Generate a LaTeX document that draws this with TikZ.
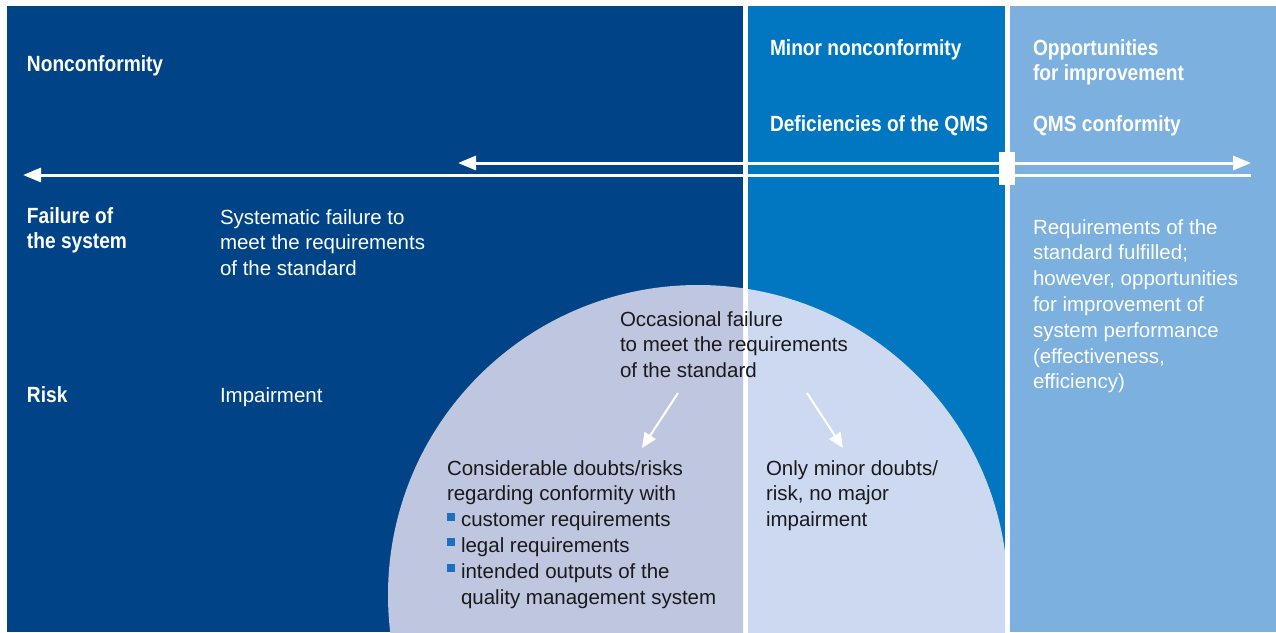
\documentclass[tikz,border=0pt]{standalone}
\usepackage{fontspec}
\setmainfont{Liberation Sans}
\newfontfamily\hdfont{Liberation Sans}[FakeStretch=0.87]
\usetikzlibrary{arrows.meta}
\definecolor{dkblue}{HTML}{004487}
\definecolor{midblue}{HTML}{0077C0}
\definecolor{ltblue}{HTML}{7BB0DF}
\definecolor{circdk}{HTML}{BFC6E0}
\definecolor{circmid}{HTML}{CDD9F0}
\definecolor{txtdark}{HTML}{1A1A1A}
\definecolor{bulletblue}{HTML}{1F6FC0}
\newcommand{\bul}{\makebox[14pt][l]{\textcolor{bulletblue}{\rule[6pt]{8pt}{8pt}}}}
\tikzset{bigtip/.tip={Triangle[length=18pt,width=14pt]}}
\begin{document}
\begin{tikzpicture}[x=1pt,y=-1pt,
  bodytext/.style={anchor=base west, inner sep=0pt, outer sep=0pt, align=left, font=\fontsize{20.5}{25.8}\selectfont},
  whitetext/.style={bodytext, text=white},
  darktext/.style={bodytext, text=txtdark},
  headtext/.style={anchor=base west, inner sep=0pt, outer sep=0pt, align=left, text=white, font=\hdfont\bfseries\fontsize{22}{25.5}\selectfont},
  bigline/.style={draw=white, line width=3pt},
  smallarrow/.style={draw=white, line width=2pt, -{Triangle[length=15pt,width=13pt]}}]
\useasboundingbox (0,0) rectangle (1276,632);
\fill[white] (0,0) rectangle (1276,632);
% panels
\fill[dkblue] (7,6) rectangle (743,632);
\fill[midblue] (748,6) rectangle (1005,632);
\fill[ltblue] (1010,6) rectangle (1276,632);
% circle
\begin{scope}
  \clip (7,6) rectangle (743,632);
  \fill[circdk] (698,595) circle[radius=310];
\end{scope}
\begin{scope}
  \clip (748,6) rectangle (1005,632);
  \fill[circmid] (698,595) circle[radius=310];
\end{scope}
% arrows
\coordinate (lowL) at (23,175);
\coordinate (lowR) at (1251,175);
\coordinate (upL) at (458,163);
\coordinate (upR) at (1251,163);
\draw[bigline, bigtip-] (lowL) -- (lowR);
\draw[bigline, bigtip-bigtip] (upL) -- (upR);
\node[fill=white, inner sep=0pt, minimum width=16pt, minimum height=33pt] (mark) at (1007,168.5) {};
% headings (anchor = baseline of last line)
\node[headtext] (nc) at (27,71) {Nonconformity};
\node[headtext] (minor) at (770,55) {Minor nonconformity};
\node[headtext] (defic) at (770,131) {Deficiencies of the QMS};
\node[headtext] (opp) at (1033,80.5) {Opportunities\\for improvement};
\node[headtext] (qmsc) at (1033,131) {QMS conformity};
\node[headtext] (fail) at (27,248.5) {Failure of\\the system};
\node[headtext] (risk) at (27,402) {Risk};
% body texts (anchor = baseline of last line)
\node[whitetext] (syst) at (220,275.6) {Systematic failure to\\meet the requirements\\of the standard};
\node[whitetext] (imp) at (220,402) {Impairment};
\node[whitetext] (req) at (1033,388.8) {Requirements of the\\standard fulfilled;\\however, opportunities\\for improvement of\\system performance\\(effectiveness,\\efficiency)};
\node[darktext] (occ) at (620,377.6) {Occasional failure\\to meet the requirements\\of the standard};
\node[darktext] (cons) at (447,604) {Considerable doubts/risks\\regarding conformity with\\\bul customer requirements\\\bul legal requirements\\\bul intended outputs of the\\\hspace*{14pt}quality management system};
\node[darktext] (only) at (766,526.6) {Only minor doubts/\\risk, no major\\impairment};
% small arrows
\coordinate (a1s) at (678,393);
\coordinate (a1e) at (642,448);
\coordinate (a2s) at (807,393);
\coordinate (a2e) at (843,448);
\draw[smallarrow] (a1s) -- (a1e);
\draw[smallarrow] (a2s) -- (a2e);
\end{tikzpicture}
\end{document}
